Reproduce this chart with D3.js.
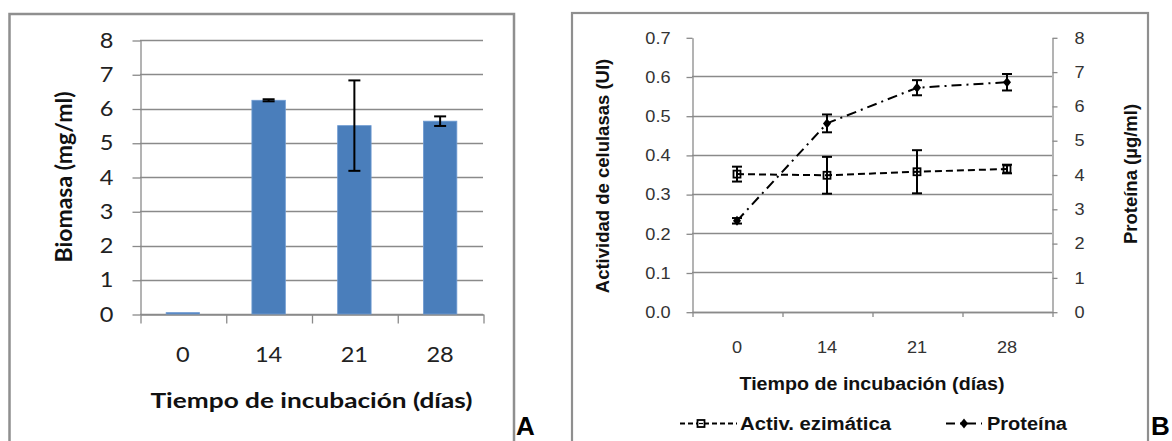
<!DOCTYPE html>
<html>
<head>
<meta charset="utf-8">
<script src="https://cdn.jsdelivr.net/npm/d3@7"></script>
<style>
  html, body { margin: 0; padding: 0; background: #fff; }
  svg { display: block; }
</style>
</head>
<body>
<svg id="fig" width="1172" height="441"></svg>
<script>
// Incubation days shared by both panels
const dias = ["0", "14", "21", "28"];

// Panel A: biomass (mg/ml) with its error
const biomasa = [0.04, 6.24, 5.50, 5.63];
const biomasaErr = [0.00, 0.03, 1.32, 0.14];
const biomasaTicks = [0, 1, 2, 3, 4, 5, 6, 7, 8];

// Panel B: cellulase activity (UI, left axis) and protein (µg/ml, right axis)
const actividad = [0.351, 0.348, 0.357, 0.364];
const actividadErr = [0.019, 0.047, 0.055, 0.011];
const proteina = [2.65, 5.49, 6.53, 6.69];
const proteinaErr = [0.08, 0.26, 0.22, 0.24];
const actividadTicks = [0, 0.1, 0.2, 0.3, 0.4, 0.5, 0.6, 0.7];
const proteinaTicks = [0, 1, 2, 3, 4, 5, 6, 7, 8];

const svg = d3.select("#fig");
const GRID = "#8a8a8a";
const FRAME = "#8f8f8f";

// ---------------- Panel A ----------------
const fontA = "Lato, 'Open Sans', sans-serif";
const sxA = 1.15;

svg.append("rect")
  .attr("x", 9.5).attr("y", 14).attr("width", 504.5).attr("height", 450)
  .attr("fill", "none").attr("stroke", FRAME).attr("stroke-width", 2.5);

const xA = d3.scaleBand().domain(dias).range([140, 483]);
const yA = d3.scaleLinear().domain([0, 8]).range([314, 40]);
const edgesA = d3.scaleLinear().domain([0, dias.length]).range([140, 483]);

const gA = svg.append("g");

// horizontal gridlines
gA.append("g").selectAll("line").data(biomasaTicks).join("line")
  .attr("x1", 140).attr("x2", 483)
  .attr("y1", d => Math.round(yA(d)) + 0.5).attr("y2", d => Math.round(yA(d)) + 0.5)
  .attr("stroke", GRID).attr("stroke-width", 1.3);

// left axis with labels
const axA = gA.append("g").attr("transform", "translate(140.5,0.5)")
  .call(d3.axisLeft(yA).tickValues(biomasaTicks).tickSize(8).tickSizeOuter(0).tickPadding(19).tickFormat(d3.format("d")));
axA.selectAll("path, line").attr("stroke", GRID).attr("stroke-width", 1.3);
axA.selectAll("text")
  .attr("font-family", fontA).attr("font-size", 20.5).attr("fill", "#222")
  .attr("x", -27 / sxA).attr("transform", `scale(${sxA},1)`);

// category boundary ticks
const edgeAx = gA.append("g").attr("transform", "translate(0.5,314.5)")
  .call(d3.axisBottom(edgesA).ticks(dias.length).tickSize(9).tickSizeOuter(0).tickFormat(""));
edgeAx.selectAll("path, line").attr("stroke", GRID).attr("stroke-width", 1.3);

// category labels
const catA = gA.append("g").attr("transform", "translate(0,314)")
  .call(d3.axisBottom(xA).tickSize(0).tickPadding(33));
catA.select(".domain").remove();
catA.selectAll("text")
  .attr("font-family", fontA).attr("font-size", 20.5).attr("fill", "#222")
  .attr("transform", `scale(${sxA},1)`);

// bars
const barW = xA.bandwidth() * 0.39;
gA.append("g").selectAll("rect").data(dias).join("rect")
  .attr("x", (d) => xA(d) + (xA.bandwidth() - barW) / 2)
  .attr("width", barW)
  .attr("y", (d, i) => yA(biomasa[i]))
  .attr("height", (d, i) => yA(0) - yA(biomasa[i]))
  .attr("fill", "#4a7ebb").attr("stroke", "#6f9bd2").attr("stroke-width", 0.8);

// error bars
const errA = gA.append("g").attr("stroke", "#000").attr("stroke-width", 2);
dias.forEach((d, i) => {
  if (biomasaErr[i] <= 0) return;
  const cx = xA(d) + xA.bandwidth() / 2;
  const y1 = yA(biomasa[i] + biomasaErr[i]), y2 = yA(biomasa[i] - biomasaErr[i]);
  errA.append("line").attr("x1", cx).attr("x2", cx).attr("y1", y1).attr("y2", y2);
  errA.append("line").attr("x1", cx - 6).attr("x2", cx + 6).attr("y1", y1).attr("y2", y1);
  errA.append("line").attr("x1", cx - 6).attr("x2", cx + 6).attr("y1", y2).attr("y2", y2);
});

// axis titles
gA.append("text")
  .attr("x", 311.5).attr("y", 408).attr("text-anchor", "middle")
  .attr("font-family", fontA).attr("font-weight", 700).attr("font-size", 21.5).attr("fill", "#111")
  .attr("textLength", 322).attr("lengthAdjust", "spacingAndGlyphs")
  .text("Tiempo de incubación (días)");
gA.append("text")
  .attr("transform", "translate(72,177) rotate(-90)")
  .attr("text-anchor", "middle")
  .attr("font-family", fontA).attr("font-weight", 700).attr("font-size", 22).attr("fill", "#111")
  .attr("textLength", 171).attr("lengthAdjust", "spacingAndGlyphs")
  .text("Biomasa (mg/ml)");

// panel letters
svg.append("text").attr("x", 516).attr("y", 435)
  .attr("font-family", "'Liberation Sans', Arial, sans-serif").attr("font-weight", 700)
  .attr("font-size", 26).attr("fill", "#000").text("A");

// ---------------- Panel B ----------------
const fontB = "'Liberation Sans', Arial, sans-serif";
const sxB = 1.1;

svg.append("rect")
  .attr("x", 572).attr("y", 13).attr("width", 576).attr("height", 450)
  .attr("fill", "none").attr("stroke", FRAME).attr("stroke-width", 2.2);

const xB = d3.scaleBand().domain(dias).range([692, 1052]);
const yL = d3.scaleLinear().domain([0, 0.7]).range([311.7, 37.3]);
const yR = d3.scaleLinear().domain([0, 8]).range([311.7, 37.3]);
const edgesB = d3.scaleLinear().domain([0, dias.length]).range([692, 1052]);
const cxB = d => xB(d) + xB.bandwidth() / 2;

const gB = svg.append("g");

// gridlines (top value carries only its tick)
gB.append("g").selectAll("line").data(actividadTicks.slice(0, -1)).join("line")
  .attr("x1", 692).attr("x2", 1052)
  .attr("y1", d => Math.round(yL(d)) + 0.5).attr("y2", d => Math.round(yL(d)) + 0.5)
  .attr("stroke", GRID).attr("stroke-width", 1.3);

const axL = gB.append("g").attr("transform", "translate(692.5,0.5)")
  .call(d3.axisLeft(yL).tickValues(actividadTicks).tickSize(6).tickSizeOuter(0).tickPadding(16).tickFormat(d3.format(".1f")));
axL.selectAll("path, line").attr("stroke", GRID).attr("stroke-width", 1.3);
axL.selectAll("text")
  .attr("font-family", fontB).attr("font-size", 16.5).attr("fill", "#333")
  .attr("x", -22 / sxB).attr("transform", `scale(${sxB},1)`);

const axR = gB.append("g").attr("transform", "translate(1052.5,0.5)")
  .call(d3.axisRight(yR).tickValues(proteinaTicks).tickSize(5).tickSizeOuter(0).tickPadding(17).tickFormat(d3.format("d")));
axR.selectAll("path, line").attr("stroke", GRID).attr("stroke-width", 1.3);
axR.selectAll("text")
  .attr("font-family", fontB).attr("font-size", 16.5).attr("fill", "#333")
  .attr("x", 22 / sxB).attr("transform", `scale(${sxB},1)`);

const edgeBx = gB.append("g").attr("transform", "translate(0.5,312)")
  .call(d3.axisBottom(edgesB).ticks(dias.length).tickSize(5).tickSizeOuter(0).tickFormat(""));
edgeBx.selectAll("path, line").attr("stroke", GRID).attr("stroke-width", 1.3);

const catB = gB.append("g").attr("transform", "translate(0,312)")
  .call(d3.axisBottom(xB).tickSize(0).tickPadding(29));
catB.select(".domain").remove();
catB.selectAll("text")
  .attr("font-family", fontB).attr("font-size", 16.5).attr("fill", "#333")
  .attr("transform", `scale(${sxB},1)`);

// series lines
const lineAct = d3.line().x((d, i) => cxB(dias[i])).y(d => yL(d));
const lineProt = d3.line().x((d, i) => cxB(dias[i])).y(d => yR(d));
gB.append("path").attr("d", lineAct(actividad))
  .attr("fill", "none").attr("stroke", "#000").attr("stroke-width", 2).attr("stroke-dasharray", "7,4");
gB.append("path").attr("d", lineProt(proteina))
  .attr("fill", "none").attr("stroke", "#000").attr("stroke-width", 2).attr("stroke-dasharray", "10,5,2,5");

// error bars
function errBars(g, vals, errs, y) {
  const e = g.append("g").attr("stroke", "#000").attr("stroke-width", 2);
  dias.forEach((d, i) => {
    const cx = cxB(d);
    const y1 = y(vals[i] + errs[i]), y2 = y(vals[i] - errs[i]);
    e.append("line").attr("x1", cx).attr("x2", cx).attr("y1", y1).attr("y2", y2);
    e.append("line").attr("x1", cx - 5).attr("x2", cx + 5).attr("y1", y1).attr("y2", y1);
    e.append("line").attr("x1", cx - 5).attr("x2", cx + 5).attr("y1", y2).attr("y2", y2);
  });
}
errBars(gB, actividad, actividadErr, yL);
errBars(gB, proteina, proteinaErr, yR);

// markers
const diamond = "M0,-5L4,0L0,5L-4,0Z";
gB.append("g").selectAll("rect").data(actividad).join("rect")
  .attr("x", (d, i) => cxB(dias[i]) - 3.5).attr("y", d => yL(d) - 3.5)
  .attr("width", 7).attr("height", 7)
  .attr("fill", "none").attr("stroke", "#000").attr("stroke-width", 1.8);
gB.append("g").selectAll("path").data(proteina).join("path")
  .attr("d", diamond)
  .attr("transform", (d, i) => `translate(${cxB(dias[i])},${yR(d)})`)
  .attr("fill", "#000");

// axis titles
gB.append("text")
  .attr("x", 872).attr("y", 390).attr("text-anchor", "middle")
  .attr("font-family", fontB).attr("font-weight", 700).attr("font-size", 18).attr("fill", "#111")
  .attr("textLength", 265).attr("lengthAdjust", "spacingAndGlyphs")
  .text("Tiempo de incubación (días)");
gB.append("text")
  .attr("transform", "translate(609,176) rotate(-90)")
  .attr("text-anchor", "middle")
  .attr("font-family", fontB).attr("font-weight", 700).attr("font-size", 18.5).attr("fill", "#111")
  .text("Actividad de celulasas (UI)");
gB.append("text")
  .attr("transform", "translate(1137,174) rotate(-90)")
  .attr("text-anchor", "middle")
  .attr("font-family", fontB).attr("font-weight", 700).attr("font-size", 18.5).attr("fill", "#111")
  .text("Proteína (µg/ml)");

// legend
const leg = gB.append("g");
leg.append("line").attr("x1", 680).attr("x2", 737).attr("y1", 423.5).attr("y2", 423.5)
  .attr("stroke", "#000").attr("stroke-width", 2).attr("stroke-dasharray", "5,3");
leg.append("rect").attr("x", 697.5).attr("y", 420).attr("width", 7).attr("height", 7)
  .attr("fill", "#fff").attr("stroke", "#000").attr("stroke-width", 1.8);
leg.append("line").attr("x1", 699).attr("x2", 703).attr("y1", 423.5).attr("y2", 423.5)
  .attr("stroke", "#000").attr("stroke-width", 1.2);
leg.append("text").attr("x", 740).attr("y", 430)
  .attr("font-family", fontB).attr("font-weight", 700).attr("font-size", 18).attr("fill", "#111")
  .attr("textLength", 151).attr("lengthAdjust", "spacingAndGlyphs")
  .text("Activ. ezimática");

leg.append("line").attr("x1", 946).attr("x2", 982).attr("y1", 423.5).attr("y2", 423.5)
  .attr("stroke", "#000").attr("stroke-width", 2).attr("stroke-dasharray", "9,5,2,5");
leg.append("path").attr("d", diamond).attr("transform", "translate(964,423.5)").attr("fill", "#000");
leg.append("text").attr("x", 987).attr("y", 430)
  .attr("font-family", fontB).attr("font-weight", 700).attr("font-size", 18).attr("fill", "#111")
  .attr("textLength", 80).attr("lengthAdjust", "spacingAndGlyphs")
  .text("Proteína");

svg.append("text").attr("x", 1151).attr("y", 435)
  .attr("font-family", fontB).attr("font-weight", 700)
  .attr("font-size", 26).attr("fill", "#000").text("B");
</script>
</body>
</html>
